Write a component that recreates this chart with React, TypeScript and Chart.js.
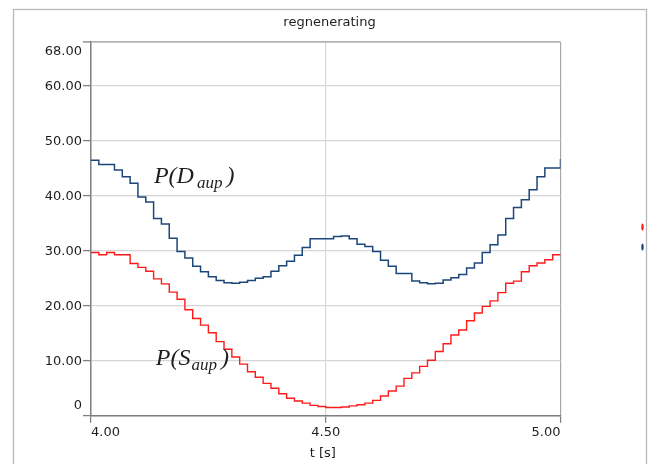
import React, { useEffect, useRef } from "react";
import { Chart, registerables } from "chart.js";

Chart.register(...registerables);

// ---------- data ----------
const chartTitle = "regnenerating";
const xAxisTitle = "t [s]";

// sampling grid of the step signals (s)
const sampleStart = 4.0;
const samplePeriod = 1 / 60;

// P(D_aup) — blue step signal, one value per sample
const pDaup = [
  46.5, 45.7, 45.7, 44.7, 43.5, 42.3, 39.8, 38.9, 35.9, 34.9,
  32.3, 29.9, 28.7, 27.2, 26.2, 25.3, 24.6, 24.2, 24.1, 24.3,
  24.6, 25.0, 25.3, 26.3, 27.3, 28.1, 29.2, 30.6, 32.2, 32.2,
  32.2, 32.6, 32.7, 32.2, 31.2, 30.8, 29.9, 28.3, 27.2, 25.9,
  25.9, 24.5, 24.2, 24.0, 24.1, 24.7, 25.1, 25.7, 26.9, 27.8,
  29.7, 31.1, 32.9, 35.9, 37.9, 39.3, 41.1, 43.5, 45.1, 45.1,
];
const pDaupEnd = 46.7;

// P(S_aup) — red step signal
const pSaup = [
  29.7, 29.3, 29.7, 29.3, 29.3, 27.7, 27.0, 26.3, 24.9, 24.0,
  22.5, 21.2, 19.3, 17.7, 16.5, 15.1, 13.5, 12.1, 10.7, 9.4,
  8.0, 7.0, 5.9, 5.0, 4.0, 3.2, 2.7, 2.3, 1.9, 1.7,
  1.5, 1.5, 1.6, 1.8, 2.0, 2.3, 2.8, 3.6, 4.5, 5.4,
  6.8, 7.8, 9.0, 10.1, 11.7, 13.1, 14.7, 15.6, 17.3, 18.7,
  19.9, 20.9, 22.4, 24.1, 24.5, 26.2, 27.3, 27.8, 28.4, 29.3,
];
const pSaupEnd = 29.3;

const xTicks = [4.0, 4.5, 5.0];
const yTicks = [0, 10, 20, 30, 40, 50, 60, 68];

// curve labels anchored in data coordinates (t, value)
const curveLabels = [
  { main: "P(D", sub: "aup", t: 4.134, v: 42.4, gap: 3 },
  { main: "P(S", sub: "aup", t: 4.138, v: 9.2, gap: 1 },
];

// ---------- helpers ----------
function toPoints(values: number[], end: number) {
  const pts = values.map((v, i) => ({ x: sampleStart + i * samplePeriod, y: v }));
  pts.push({ x: xTicks[xTicks.length - 1], y: end });
  return pts;
}

const BLUE = "#1b467a";
const RED = "#ff1a1a";
const GRID = "#d6d6d6";
const AXIS = "#808080";
const TEXT = "#1e1e1e";
const SANS = '13px "DejaVu Sans"';

const decorPlugin = {
  id: "decor",
  beforeDraw(chart: any) {
    const ctx = chart.ctx;
    ctx.save();
    ctx.strokeStyle = "#b8b8b8";
    ctx.lineWidth = 1.3;
    ctx.strokeRect(13.5, 9.5, 633, 520);
    ctx.restore();
  },
  afterDraw(chart: any) {
    const ctx = chart.ctx;
    const xs = chart.scales.x;
    const ys = chart.scales.y;
    const area = chart.chartArea;
    ctx.save();
    ctx.fillStyle = TEXT;
    ctx.font = SANS;
    ctx.textBaseline = "alphabetic";

    // title
    ctx.textAlign = "center";
    ctx.fillText(chartTitle, 329.5, 26);

    // y tick labels
    ctx.textAlign = "right";
    ys.ticks.forEach((tk: any, i: number) => {
      const py = ys.getPixelForValue(tk.value);
      let by = py + 4.3;
      if (i === ys.ticks.length - 1) by = py + 13;
      if (i === 0) by = py - 7;
      const label = tk.value === 0 ? "0" : tk.value.toFixed(2);
      ctx.fillText(label, area.left - 9, by);
    });

    // x tick labels
    xs.ticks.forEach((tk: any, i: number) => {
      const px = xs.getPixelForValue(tk.value);
      ctx.textAlign = i === 0 ? "left" : i === xs.ticks.length - 1 ? "right" : "center";
      ctx.fillText(tk.value.toFixed(2), px, area.bottom + 20.2);
    });

    // x axis title
    ctx.textAlign = "center";
    ctx.fillText(xAxisTitle, (area.left + area.right) / 2 - 3, 457);

    // curve labels
    ctx.textAlign = "left";
    curveLabels.forEach((lb) => {
      let x = xs.getPixelForValue(lb.t);
      const y = ys.getPixelForValue(lb.v);
      ctx.font = 'italic 24px "Liberation Serif"';
      ctx.fillText(lb.main, x, y);
      x += ctx.measureText(lb.main).width + lb.gap;
      ctx.font = 'italic 17px "Liberation Serif"';
      ctx.fillText(lb.sub, x, y + 5);
      x += ctx.measureText(lb.sub).width + 4;
      ctx.font = 'italic 24px "Liberation Serif"';
      ctx.fillText(")", x, y);
    });

    // clipped legend markers at the right edge
    ctx.fillStyle = RED;
    ctx.beginPath();
    ctx.ellipse(642.5, 227, 1.2, 3.5, 0, 0, Math.PI * 2);
    ctx.fill();
    ctx.fillStyle = BLUE;
    ctx.beginPath();
    ctx.ellipse(642.5, 247, 1.2, 3.5, 0, 0, Math.PI * 2);
    ctx.fill();

    ctx.restore();
  },
};

export default function App() {
  const ref = useRef<HTMLCanvasElement | null>(null);

  useEffect(() => {
    if (!ref.current) return;
    const chart = new Chart(ref.current, {
      type: "line",
      data: {
        datasets: [
          {
            label: "P(D_aup)",
            data: toPoints(pDaup, pDaupEnd),
            borderColor: BLUE,
            borderWidth: 1.5,
            pointRadius: 0,
            stepped: "before",
            fill: false,
          },
          {
            label: "P(S_aup)",
            data: toPoints(pSaup, pSaupEnd),
            borderColor: RED,
            borderWidth: 1.4,
            pointRadius: 0,
            stepped: "before",
            fill: false,
          },
        ],
      },
      options: {
        animation: false,
        responsive: false,
        parsing: false as any,
        layout: { padding: { top: 42, right: 89.5, bottom: 0, left: 0 } },
        plugins: {
          legend: { display: false },
          title: { display: false },
          tooltip: { enabled: false },
        },
        scales: {
          x: {
            type: "linear",
            min: xTicks[0],
            max: xTicks[xTicks.length - 1],
            afterBuildTicks: (s: any) => {
              s.ticks = xTicks.map((v) => ({ value: v }));
            },
            afterFit: (s: any) => {
              s.height = 48.2;
            },
            ticks: { display: false },
            grid: {
              color: (c: any) =>
                c.tick && c.tick.value === xTicks[xTicks.length - 1] ? "#a8a8a8" : GRID,
              lineWidth: 1.2,
              drawTicks: true,
              tickLength: 7,
              tickColor: AXIS,
              tickWidth: 1.3,
            },
            border: { display: true, color: AXIS, width: 1.5 },
          },
          y: {
            type: "linear",
            min: yTicks[0],
            max: yTicks[yTicks.length - 1],
            afterBuildTicks: (s: any) => {
              s.ticks = yTicks.map((v) => ({ value: v }));
            },
            afterFit: (s: any) => {
              s.width = 91;
            },
            ticks: { display: false },
            grid: {
              color: (c: any) =>
                c.tick && c.tick.value === yTicks[yTicks.length - 1] ? "#b4b4b4" : GRID,
              lineWidth: (c: any) =>
                c.tick && c.tick.value === yTicks[yTicks.length - 1] ? 1.8 : 1.2,
              drawTicks: true,
              tickLength: 8,
              tickColor: AXIS,
              tickWidth: 1.3,
            },
            border: { display: true, color: AXIS, width: 1.5 },
          },
        },
      },
      plugins: [decorPlugin],
    });
    return () => chart.destroy();
  }, []);

  return (
    <div style={{ position: "absolute", left: 0, top: 0, width: 650, height: 464, background: "#fff" }}>
      <canvas ref={ref} width={650} height={464} />
    </div>
  );
}
